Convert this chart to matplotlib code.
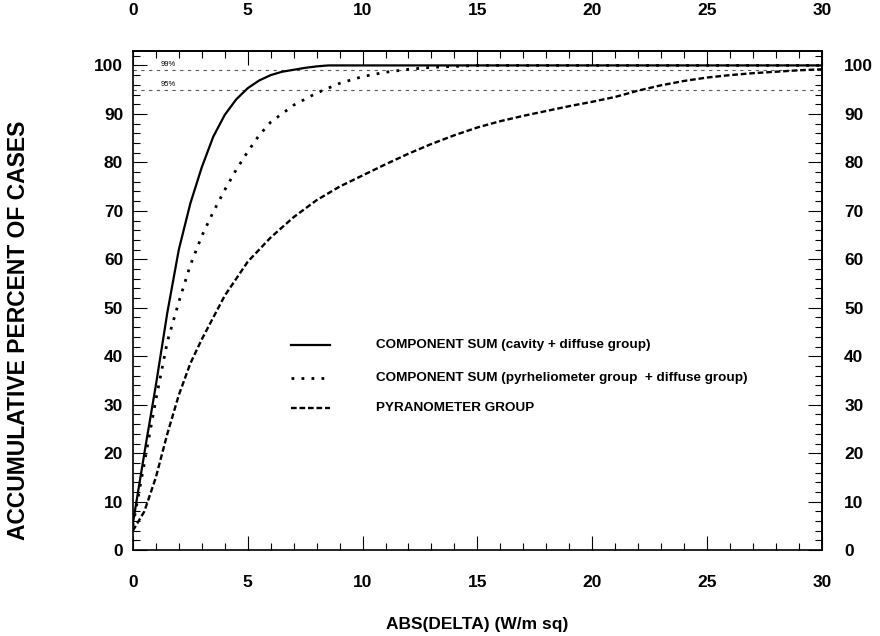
import numpy as np
import matplotlib
matplotlib.use("Agg")
import matplotlib.pyplot as plt
from matplotlib.ticker import MultipleLocator

plt.rcParams['font.family'] = ['Liberation Sans', 'DejaVu Sans']

# component sum (cavity + diffuse group)
x_cav = [0, 0.5, 1, 1.5, 2, 2.5, 3, 3.5, 4, 4.5, 5, 5.5, 6, 6.5, 7, 7.5, 8, 8.5, 9, 30]
y_cav = [5.5, 20, 34, 49, 62, 71.5, 79, 85.3, 89.8, 93, 95.3, 96.9, 98, 98.7, 99.1, 99.5, 99.8, 100, 100, 100]

# component sum (pyrheliometer group + diffuse group)
x_pyr = [0, 0.5, 1, 1.5, 2, 2.5, 3, 3.5, 4, 4.5, 5, 5.5, 6, 7, 8, 9, 10, 11, 12, 13, 14, 15, 30]
y_pyr = [5, 18, 31, 43, 51.2, 58.8, 64.8, 69.8, 74.3, 78.5, 82.2, 85.6, 88.3, 91.8, 94.3, 96.3,
         97.7, 98.6, 99.2, 99.6, 99.8, 100, 100]

# pyranometer group
x_pyra = [0, 0.5, 1, 1.5, 2, 2.5, 3, 3.5, 4, 5, 6, 7, 8, 9, 10, 11, 12, 13, 14, 15, 16, 17, 18,
          19, 20, 21, 22, 23, 24, 25, 26, 27, 28, 29, 30]
y_pyra = [4, 8, 15, 24, 32, 38.5, 43.5, 48, 52.5, 59.5, 64.5, 68.7, 72.2, 75, 77.3, 79.6, 81.8,
          83.8, 85.6, 87.2, 88.5, 89.6, 90.6, 91.6, 92.5, 93.5, 94.8, 95.9, 96.8, 97.5, 98, 98.4,
          98.7, 99, 99.2]

ref_levels = [99, 95]
ref_labels = ['99%', '95%']

legend_labels = ['COMPONENT SUM (cavity + diffuse group)',
                 'COMPONENT SUM (pyrheliometer group  + diffuse group)',
                 'PYRANOMETER GROUP']
legend_y = [42.4, 35.6, 29.4]

x_ticks = [0, 5, 10, 15, 20, 25, 30]
y_ticks = [0, 10, 20, 30, 40, 50, 60, 70, 80, 90, 100]

fig = plt.figure(figsize=(8.8, 6.36), dpi=100)
ax = fig.add_axes([0.151, 0.135, 0.783, 0.785])

for lvl, lab in zip(ref_levels, ref_labels):
    ax.axhline(lvl, color='0.35', lw=0.8, ls=(0, (3, 4)))
    ax.text(1.2, lvl + 0.4, lab, fontsize=5.5, va='bottom', ha='left')

styles = [dict(ls='-', lw=1.6),
          dict(ls=(0, (1, 2.6)), lw=2.0),
          dict(ls=(0, (2.4, 1.2)), lw=1.7)]
series = [(x_cav, y_cav), (x_pyr, y_pyr), (x_pyra, y_pyra)]
for (xs, ys), st, lab, ly in zip(series, styles, legend_labels, legend_y):
    ax.plot(xs, ys, color='black', **st)
    ax.plot([6.9, 8.6], [ly, ly], color='black', **st)
    ax.text(10.6, ly, lab, fontsize=9.7, fontweight='bold', va='center', ha='left')

ax.set_xlim(0, 30)
ax.set_ylim(0, 103)

# top and right axes carry their own tick labels
secx = ax.secondary_xaxis('top')
secy = ax.secondary_yaxis('right')

for a in (ax, secx):
    a.set_xticks(x_ticks)
    a.xaxis.set_minor_locator(MultipleLocator(1))
for a in (ax, secy):
    a.set_yticks(y_ticks)
    a.yaxis.set_minor_locator(MultipleLocator(2))

for a in (ax, secx, secy):
    for sp in a.spines.values():
        sp.set_linewidth(1.2)
    a.tick_params(which='both', direction='in', width=0.8)
    a.tick_params(which='major', length=10, labelsize=12.5)
    a.tick_params(which='minor', length=5)

ax.tick_params(axis='x', which='major', pad=18)
ax.tick_params(axis='y', which='major', pad=7)
secx.tick_params(which='major', pad=24)
secy.tick_params(which='major', pad=16)

for lbl in (ax.get_xticklabels() + ax.get_yticklabels()
            + secx.get_xticklabels() + secy.get_yticklabels()):
    lbl.set_fontweight('bold')

ax.set_xlabel('ABS(DELTA) (W/m sq)', fontsize=12.5, fontweight='bold', labelpad=19)
ax.set_ylabel('ACCUMULATIVE PERCENT OF CASES', fontsize=16.5, fontweight='bold')
ax.yaxis.set_label_coords(-0.15, 0.44)

fig.savefig('out.png', dpi=100)
